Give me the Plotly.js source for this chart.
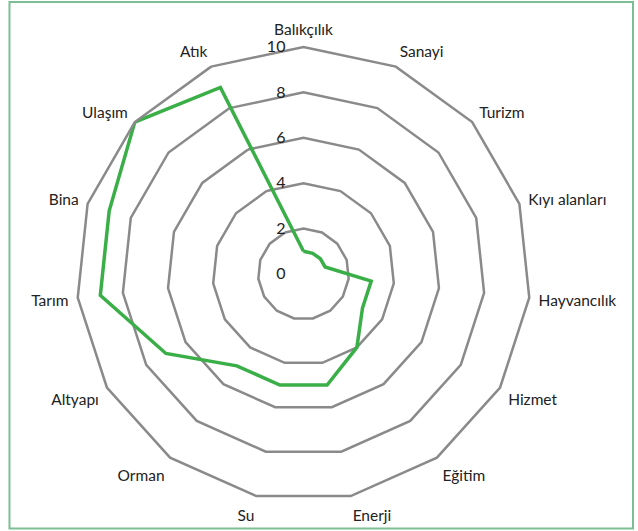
<!DOCTYPE html>
<html>
<head>
<meta charset="utf-8">
<script src="https://cdn.plot.ly/plotly-3.0.1.min.js"></script>
<style>
  body { margin: 0; background: #fff; }
  #chart { width: 638px; height: 531px; }
</style>
</head>
<body>
<div id="chart"></div>
<script>
// sectors, clockwise from the top
let sectors = ["Balıkçılık", "Sanayi", "Turizm", "Kıyı alanları", "Hayvancılık", "Hizmet",
    "Eğitim", "Enerji", "Su", "Orman", "Altyapı", "Tarım", "Bina", "Ulaşım", "Atık"];
let scores = [1, 1, 1, 1, 3, 3, 4, 5, 5, 5, 7, 9, 9, 10, 9];
let radialTicks = [0, 2, 4, 6, 8, 10];

// close the loop
let theta = sectors.concat([sectors[0]]);
let r = scores.concat([scores[0]]);

let trace = {
    type: "scatterpolar",
    mode: "lines",
    r: r,
    theta: theta,
    line: { color: "#3aaf48", width: 3.5 },
    hoverinfo: "skip"
};

let gridGray = "#8a8a8a";

let layout = {
    width: 638,
    height: 531,
    margin: { l: 76, r: 107, t: 46.5, b: 29.5 },
    paper_bgcolor: "#ffffff",
    showlegend: false,
    font: { family: "Lato, 'Open Sans', sans-serif", size: 15, color: "#222" },
    polar: {
        gridshape: "linear",
        bgcolor: "rgba(0,0,0,0)",
        angularaxis: {
            direction: "clockwise",
            rotation: 90,
            showgrid: false,
            showline: true,
            linecolor: gridGray,
            linewidth: 2.5,
            ticks: "outside",
            ticklen: 5,
            tickcolor: "rgba(0,0,0,0)",
            tickfont: { size: 15.5, color: "#222" }
        },
        radialaxis: {
            range: [0, 10],
            tickvals: radialTicks,
            angle: 90,
            side: "counterclockwise",
            showline: false,
            gridcolor: gridGray,
            gridwidth: 2.5,
            ticks: "outside",
            ticklen: 12,
            tickcolor: "rgba(0,0,0,0)",
            tickangle: 90,
            tickfont: { size: 16, color: "#222" }
        }
    },
    shapes: [{
        type: "rect",
        xref: "paper", yref: "paper",
        x0: -0.1462, x1: 1.2242, y0: -0.0604, y1: 1.0989,
        line: { color: "#7dbf94", width: 2 }
    }]
};

Plotly.newPlot("chart", [trace], layout, { displayModeBar: false, staticPlot: true });
</script>
</body>
</html>
